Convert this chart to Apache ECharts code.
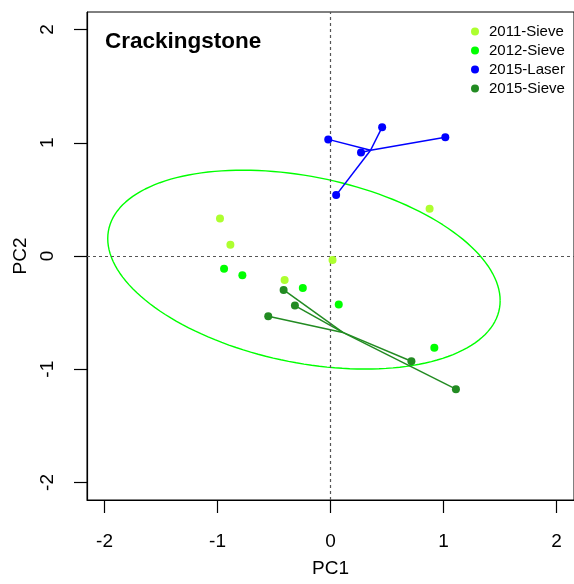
<!DOCTYPE html>
<html>
<head>
<meta charset="utf-8">
<script src="https://cdn.jsdelivr.net/npm/echarts@6/dist/echarts.min.js"></script>
<style>
html, body { margin: 0; padding: 0; background: #fff; }
#chart { width: 574px; height: 584px; }
</style>
</head>
<body>
<div id="chart"></div>
<script>
// groups and their colours (R: greenyellow, green, blue, forestgreen)
let groups = ['2011-Sieve', '2012-Sieve', '2015-Laser', '2015-Sieve'];
let colors = ['#adff2f', '#00ff00', '#0000ff', '#228b22'];

// PC1 / PC2 scores
let sieve2011 = [[-0.978, 0.332], [-0.886, 0.100], [-0.406, -0.212], [0.018, -0.035], [0.877, 0.417]];
let sieve2012 = [[-0.942, -0.112], [-0.780, -0.170], [-0.245, -0.282], [0.073, -0.429], [0.919, -0.811]];
let laser2015 = [[-0.020, 1.030], [0.270, 0.914], [0.457, 1.138], [1.016, 1.049], [0.050, 0.538]];
let sieve2015 = [[-0.415, -0.300], [-0.315, -0.438], [-0.551, -0.532], [0.716, -0.929], [1.110, -1.176]];

let tickVals = [-2, -1, 0, 1, 2];
let axisRange = [-2.155, 2.155];

function centroid(pts) {
    let sx = 0, sy = 0;
    for (let i = 0; i < pts.length; i++) { sx += pts[i][0]; sy += pts[i][1]; }
    return [sx / pts.length, sy / pts.length];
}

// spider lines from group centroid to each point
function spider(pts) {
    let c = centroid(pts);
    return pts.map(p => ({ coords: [c, p] }));
}

// 95% data ellipse (chi-square, 2 df)
function ellipse(pts, n) {
    let c = centroid(pts);
    let sxx = 0, syy = 0, sxy = 0;
    for (let i = 0; i < pts.length; i++) {
        let dx = pts[i][0] - c[0], dy = pts[i][1] - c[1];
        sxx += dx * dx; syy += dy * dy; sxy += dx * dy;
    }
    let m = pts.length - 1;
    sxx /= m; syy /= m; sxy /= m;
    // cholesky
    let a = Math.sqrt(sxx);
    let b = sxy / a;
    let d = Math.sqrt(syy - b * b);
    let k = Math.sqrt(5.991465);
    let out = [];
    for (let i = 0; i <= n; i++) {
        let t = 2 * Math.PI * i / n;
        let u = Math.cos(t), v = Math.sin(t);
        out.push([c[0] + k * a * u, c[1] + k * (b * u + d * v)]);
    }
    return out;
}

let allPts = [sieve2011, sieve2012, laser2015, sieve2015];
let fontFam = '"Liberation Sans", Arial, sans-serif';

let series = [];
series.push({
    name: 'ellipse',
    type: 'line',
    data: ellipse(sieve2011.concat(sieve2012), 160),
    showSymbol: false,
    silent: true,
    lineStyle: { color: '#00ff00', width: 1.4 },
    z: 2,
    markLine: {
        silent: true,
        symbol: 'none',
        label: { show: false },
        lineStyle: { type: [3, 3], color: '#555', width: 1.2 },
        data: [{ xAxis: 0 }, { yAxis: 0 }]
    }
});
series.push({
    name: 'laserLines', type: 'lines', coordinateSystem: 'cartesian2d',
    data: spider(laser2015), silent: true, z: 3,
    lineStyle: { color: colors[2], width: 1.5, opacity: 1 }
});
series.push({
    name: 'sieveLines', type: 'lines', coordinateSystem: 'cartesian2d',
    data: spider(sieve2015), silent: true, z: 3,
    lineStyle: { color: colors[3], width: 1.5, opacity: 1 }
});
for (let i = 0; i < groups.length; i++) {
    series.push({
        name: groups[i],
        type: 'scatter',
        data: allPts[i],
        symbol: 'circle',
        symbolSize: 8,
        itemStyle: { color: colors[i], opacity: 1 },
        z: 5
    });
}

let axisCommon = {
    type: 'value',
    min: axisRange[0],
    max: axisRange[1],
    splitLine: { show: false },
    axisLine: { show: true, onZero: false, lineStyle: { color: '#000', width: 1.2 } },
    axisTick: { show: true, inside: false, length: 13, customValues: tickVals, lineStyle: { color: '#000', width: 1.2 } },
    nameLocation: 'middle',
    nameTextStyle: { fontFamily: fontFam, fontSize: 19, color: '#000' }
};

let option = {
    animation: false,
    backgroundColor: '#fff',
    title: {
        text: 'Crackingstone',
        left: 100, top: 25,
        textStyle: { fontFamily: fontFam, fontSize: 22.5, fontWeight: 'bold', color: '#000' }
    },
    legend: {
        data: groups,
        orient: 'vertical',
        left: 466, top: 19,
        icon: 'circle',
        itemWidth: 18, itemHeight: 8,
        itemGap: 4,
        textStyle: { fontFamily: fontFam, fontSize: 15, lineHeight: 15, color: '#000' }
    },
    grid: { left: 87, top: 12, width: 488, height: 488, show: true, borderColor: '#000', borderWidth: 1 },
    xAxis: Object.assign({}, axisCommon, {
        name: 'PC1', nameGap: 59,
        axisLabel: { customValues: tickVals, margin: 32, fontFamily: fontFam, fontSize: 19, color: '#000' }
    }),
    yAxis: Object.assign({}, axisCommon, {
        name: 'PC2', nameGap: 57, nameRotate: 90,
        axisLabel: { customValues: tickVals, margin: 30, rotate: 90, fontFamily: fontFam, fontSize: 19, color: '#000' }
    }),
    series: series
};

let chart = echarts.init(document.getElementById('chart'), null, { renderer: 'canvas' });
chart.setOption(option);
</script>
</body>
</html>
